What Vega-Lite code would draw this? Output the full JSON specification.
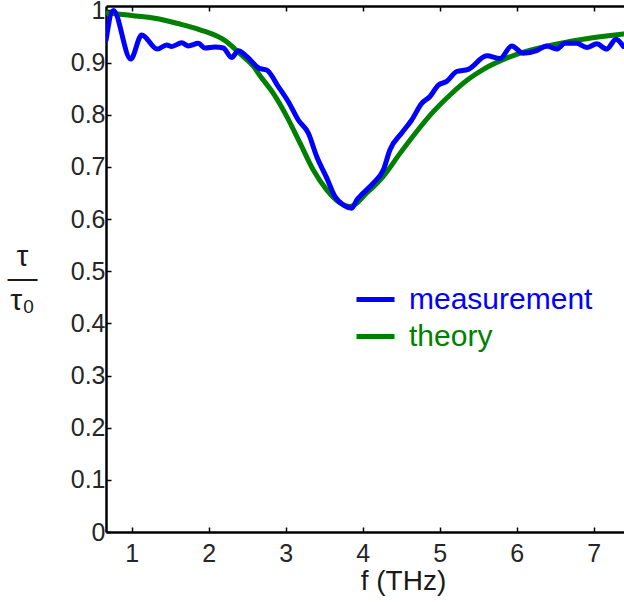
{
  "$schema": "https://vega.github.io/schema/vega-lite/v6.json",
  "autosize": {"type": "none"},
  "padding": {"left": 106, "top": 6, "right": 0, "bottom": 70},
  "width": 518,
  "height": 526,
  "background": "white",
  "config": {
    "view": {"stroke": null},
    "font": "Liberation Sans",
    "axis": {"grid": false, "domainColor": "black", "domainWidth": 2.5, "tickColor": "black", "tickWidth": 1.5, "tickSize": -5, "labelColor": "#262626", "labelFontSize": 25, "labelFont": "Liberation Sans", "titleFont": "Liberation Sans", "titleColor": "#1a1a1a", "titleFontWeight": "normal"}
  },
  "datasets": {
    "measurement": [
      {"f": 0.667, "v": 0.943}, {"f": 0.762, "v": 1.0}, {"f": 0.988, "v": 0.907}, {"f": 1.131, "v": 0.953},
      {"f": 1.333, "v": 0.926}, {"f": 1.455, "v": 0.934}, {"f": 1.52, "v": 0.931}, {"f": 1.65, "v": 0.938},
      {"f": 1.736, "v": 0.932}, {"f": 1.866, "v": 0.937}, {"f": 1.953, "v": 0.928}, {"f": 2.083, "v": 0.93},
      {"f": 2.19, "v": 0.928}, {"f": 2.299, "v": 0.91}, {"f": 2.385, "v": 0.923}, {"f": 2.494, "v": 0.912},
      {"f": 2.658, "v": 0.889}, {"f": 2.754, "v": 0.886}, {"f": 2.905, "v": 0.854}, {"f": 3.035, "v": 0.825},
      {"f": 3.164, "v": 0.79}, {"f": 3.294, "v": 0.765}, {"f": 3.403, "v": 0.72}, {"f": 3.533, "v": 0.679},
      {"f": 3.641, "v": 0.643}, {"f": 3.749, "v": 0.627}, {"f": 3.858, "v": 0.621}, {"f": 3.93, "v": 0.638},
      {"f": 3.988, "v": 0.647}, {"f": 4.138, "v": 0.669}, {"f": 4.268, "v": 0.694}, {"f": 4.355, "v": 0.733},
      {"f": 4.507, "v": 0.765}, {"f": 4.637, "v": 0.79}, {"f": 4.767, "v": 0.822}, {"f": 4.875, "v": 0.835},
      {"f": 4.983, "v": 0.857}, {"f": 5.092, "v": 0.864}, {"f": 5.221, "v": 0.883}, {"f": 5.372, "v": 0.887},
      {"f": 5.611, "v": 0.913}, {"f": 5.784, "v": 0.908}, {"f": 5.936, "v": 0.932}, {"f": 6.086, "v": 0.918},
      {"f": 6.26, "v": 0.923}, {"f": 6.39, "v": 0.932}, {"f": 6.52, "v": 0.926}, {"f": 6.628, "v": 0.937},
      {"f": 6.78, "v": 0.937}, {"f": 6.91, "v": 0.929}, {"f": 7.04, "v": 0.936}, {"f": 7.169, "v": 0.926},
      {"f": 7.29, "v": 0.945}, {"f": 7.385, "v": 0.931}
    ],
    "theory": [
      {"f": 0.68, "v": 0.995}, {"f": 1.02, "v": 0.99}, {"f": 1.3, "v": 0.985}, {"f": 1.6, "v": 0.975},
      {"f": 1.888, "v": 0.963}, {"f": 2.234, "v": 0.94}, {"f": 2.407, "v": 0.917}, {"f": 2.58, "v": 0.893},
      {"f": 2.667, "v": 0.875}, {"f": 2.84, "v": 0.841}, {"f": 3.014, "v": 0.797}, {"f": 3.186, "v": 0.746},
      {"f": 3.359, "v": 0.694}, {"f": 3.533, "v": 0.656}, {"f": 3.706, "v": 0.631}, {"f": 3.836, "v": 0.624},
      {"f": 4.053, "v": 0.65}, {"f": 4.268, "v": 0.682}, {"f": 4.485, "v": 0.726}, {"f": 4.702, "v": 0.768},
      {"f": 4.918, "v": 0.806}, {"f": 5.135, "v": 0.838}, {"f": 5.372, "v": 0.868}, {"f": 5.567, "v": 0.887},
      {"f": 6.0, "v": 0.916}, {"f": 6.433, "v": 0.933}, {"f": 6.866, "v": 0.945}, {"f": 7.385, "v": 0.955}
    ]
  },
  "layer": [
    {
      "data": {"name": "theory"},
      "transform": [{"calculate": "'theory'", "as": "series"}],
      "mark": {"type": "line", "strokeWidth": 5, "interpolate": "monotone", "clip": true, "strokeCap": "round"},
      "encoding": {
        "x": {
          "field": "f", "type": "quantitative",
          "scale": {"domain": [0.667, 7.394], "nice": false, "zero": false},
          "axis": {"orient": "bottom", "values": [1, 2, 3, 4, 5, 6, 7], "title": "f (THz)", "titleFontSize": 28, "titleX": 297, "titleY": 57, "titleAnchor": null, "titleAlign": "center", "titleBaseline": "alphabetic", "labelPadding": 14, "labelFlush": false}
        },
        "y": {
          "field": "v", "type": "quantitative",
          "scale": {"domain": [0, 1.0086], "nice": false},
          "axis": {"values": [0, 0.1, 0.2, 0.3, 0.4, 0.5, 0.6, 0.7, 0.8, 0.9, 1], "format": "~g", "title": ["τ", "—", "τ₀"], "titleFontSize": 30, "titleAngle": 0, "titleX": -84, "titleY": 250, "titleAlign": "center", "titleBaseline": "middle", "titleLineHeight": 22, "labelPadding": 6, "labelFlush": false}
        },
        "color": {
          "field": "series", "type": "nominal",
          "scale": {"domain": ["measurement", "theory"], "range": ["#0000ff", "#008000"]},
          "legend": {
            "title": null, "orient": "none", "legendX": 248, "legendY": 272,
            "symbolType": "stroke", "symbolSize": 1444, "symbolStrokeWidth": 5,
            "labelFontSize": 30, "labelFont": "Liberation Sans", "labelOffset": 12, "labelLimit": 0, "rowPadding": 0, "padding": 0,
            "encode": {"labels": {"update": {"fill": {"signal": "datum.value === 'measurement' ? '#0000ff' : '#008000'"}}}}
          }
        }
      }
    },
    {
      "data": {"name": "measurement"},
      "transform": [{"calculate": "'measurement'", "as": "series"}],
      "mark": {"type": "line", "strokeWidth": 5, "interpolate": "monotone", "clip": true, "strokeCap": "round", "strokeJoin": "round"},
      "encoding": {
        "x": {"field": "f", "type": "quantitative", "axis": null},
        "y": {"field": "v", "type": "quantitative"},
        "color": {"field": "series", "type": "nominal"}
      }
    },
    {
      "data": {"name": "theory"},
      "mark": {"type": "point", "opacity": 0, "clip": true},
      "encoding": {
        "x": {"field": "f", "type": "quantitative", "axis": {"orient": "top", "values": [1, 2, 3, 4, 5, 6, 7], "labels": false, "title": null}},
        "y": {"field": "v", "type": "quantitative"}
      }
    }
  ],
  "resolve": {"axis": {"x": "independent"}}
}
